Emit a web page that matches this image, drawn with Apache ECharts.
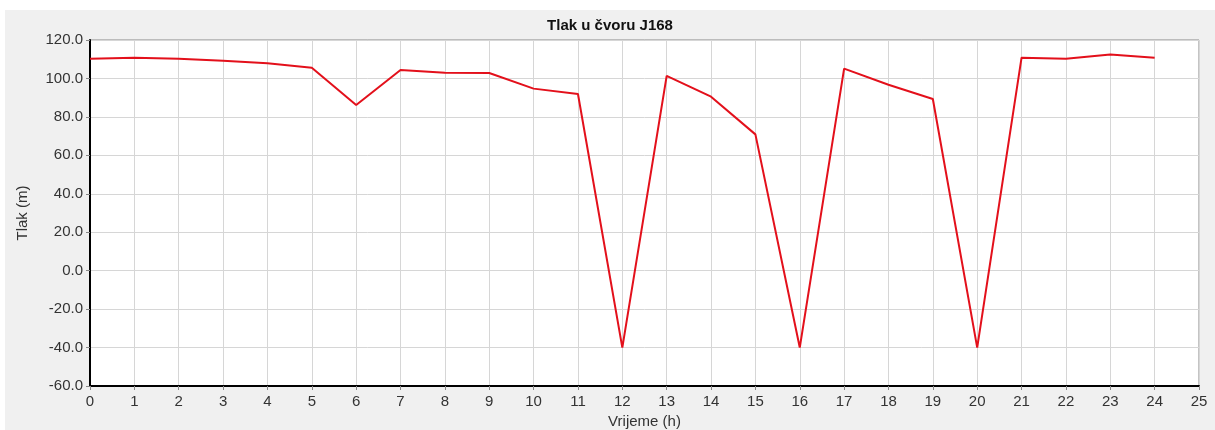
<!DOCTYPE html>
<html>
<head>
<meta charset="utf-8">
<script src="https://cdn.jsdelivr.net/npm/echarts@6/dist/echarts.min.js"></script>
<style>
html,body{margin:0;padding:0;background:#fff;width:1215px;height:430px;overflow:hidden;}
#chart{position:absolute;left:5px;top:10px;width:1210px;height:420px;}
</style>
</head>
<body>
<div id="chart"></div>
<script>
const hours = [0,1,2,3,4,5,6,7,8,9,10,11,12,13,14,15,16,17,18,19,20,21,22,23,24];
const pressure = [110.2,110.8,110.2,109.2,107.9,105.6,86.2,104.4,103.0,102.8,94.7,91.9,-40.0,101.3,90.5,70.9,-40.0,105.1,96.7,89.3,-40.0,110.8,110.3,112.4,110.8];
const titleText = 'Tlak u čvoru J168';
const xName = 'Vrijeme (h)';
const yName = 'Tlak (m)';

const chart = echarts.init(document.getElementById('chart'), null, {renderer:'canvas'});
const font = 'Liberation Sans, Arial, sans-serif';
chart.setOption({
  backgroundColor:'#f0f0f0',
  animation:false,
  title:{text:titleText,left:'center',top:3,textStyle:{fontFamily:font,fontSize:15,fontWeight:'bold',color:'#111'}},
  grid:{left:85,top:30,right:16,bottom:44,show:true,containLabel:false,outerBoundsMode:'none',backgroundColor:'#fff',borderColor:'#888',borderWidth:1},
  xAxis:{type:'value',min:0,max:25,interval:1,name:xName,nameLocation:'middle',nameGap:27,
    nameTextStyle:{fontFamily:font,fontSize:15,color:'#333'},
    axisLine:{onZero:false,lineStyle:{color:'#000',width:2}},
    axisTick:{show:true,length:4,lineStyle:{color:'#888'}},
    axisLabel:{fontFamily:font,fontSize:15,color:'#333',margin:8},
    splitLine:{show:true,lineStyle:{color:'#d6d6d6',width:1}}},
  yAxis:{type:'value',min:-60,max:120,interval:20,name:yName,nameLocation:'middle',nameGap:60,
    nameTextStyle:{fontFamily:font,fontSize:15,color:'#333'},
    axisLine:{show:true,onZero:false,lineStyle:{color:'#000',width:2}},
    axisTick:{show:true,length:4,lineStyle:{color:'#888'}},
    axisLabel:{fontFamily:font,fontSize:15,color:'#333',margin:7,formatter:v=>v.toFixed(1)},
    splitLine:{show:true,lineStyle:{color:'#d6d6d6',width:1}}},
  series:[{type:'line',data:hours.map((h,i)=>[h,pressure[i]]),showSymbol:false,
    lineStyle:{color:'#e3101b',width:2},itemStyle:{color:'#e3101b'}}]
});
</script>
</body>
</html>
